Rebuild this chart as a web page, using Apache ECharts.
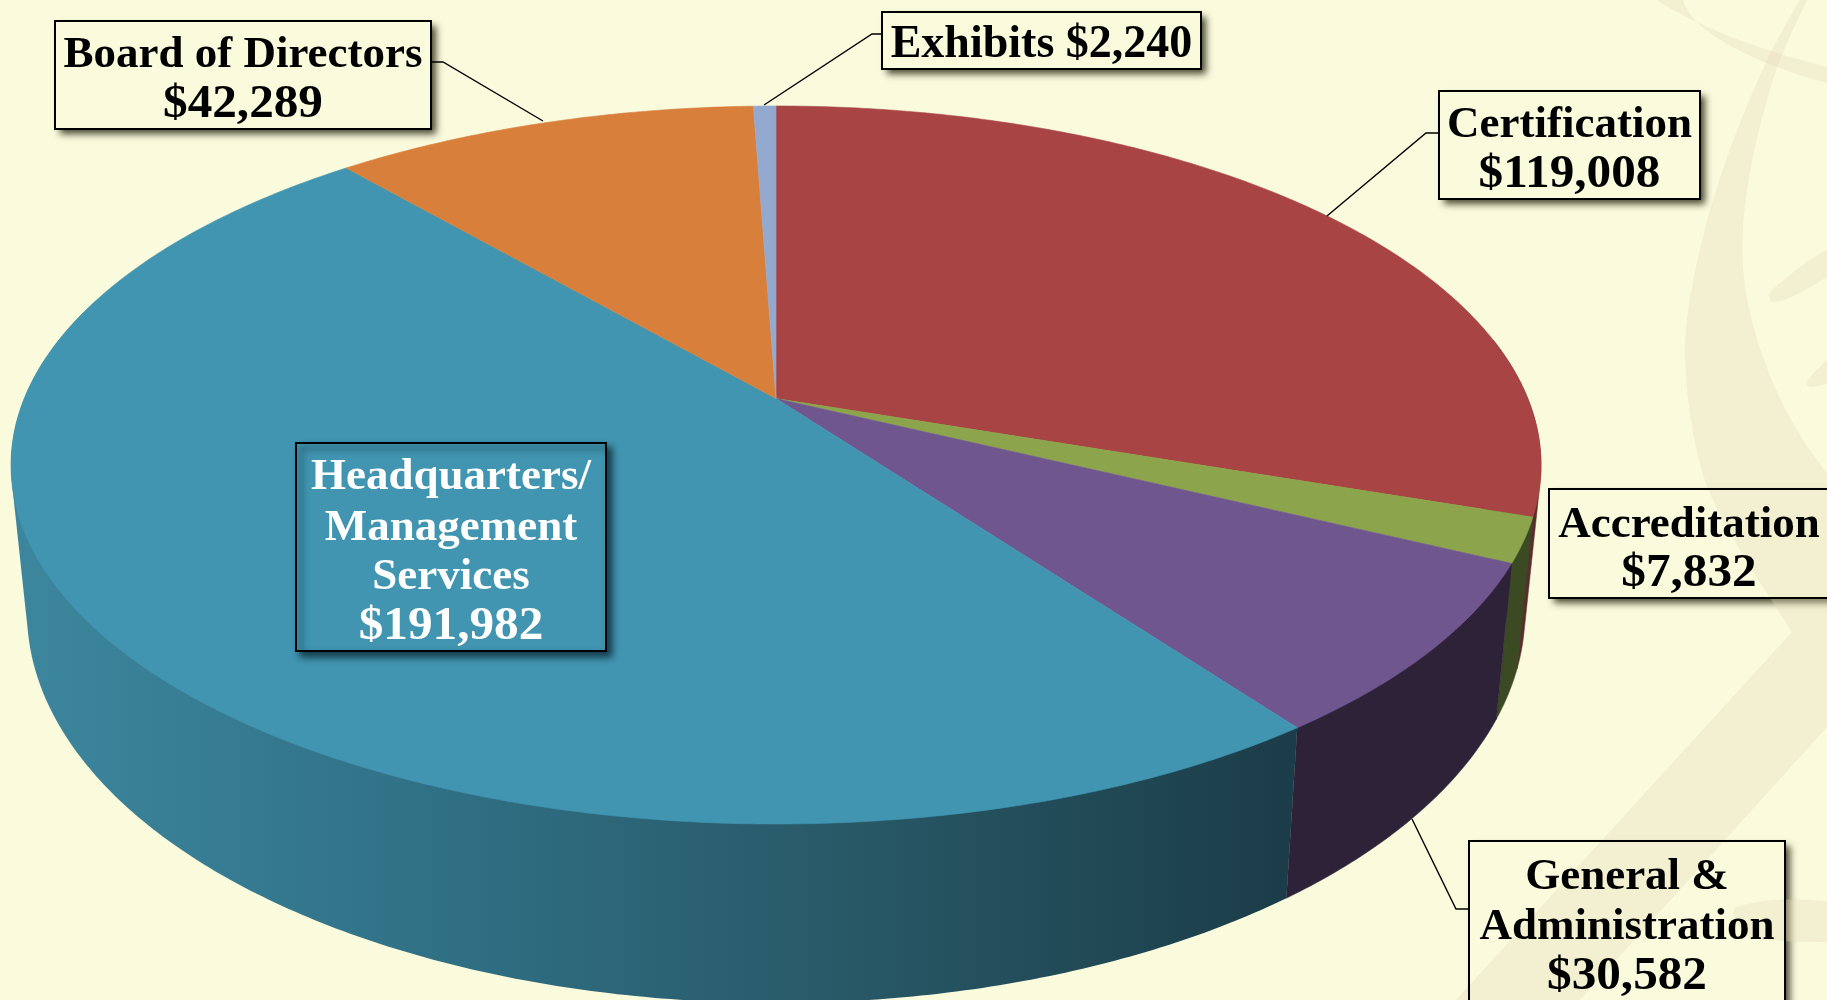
<!DOCTYPE html>
<html><head><meta charset="utf-8">
<style>html,body{margin:0;padding:0;background:#FAFADD;overflow:hidden}#c{width:1827px;height:1000px}</style>
<script src="https://cdn.jsdelivr.net/npm/echarts@6/dist/echarts.min.js"></script>
</head><body><div id="c"></div>
<script>
// ---- data (clockwise from 12 o'clock) ----
const categories = ['Certification','Accreditation','General & Administration','Headquarters/ Management Services','Board of Directors','Exhibits'];
const values = [119008, 7832, 30582, 191982, 42289, 2240];
const labelNames = [['Certification'],['Accreditation'],['General &','Administration'],['Headquarters/','Management','Services'],['Board of Directors'],[]];
const topColors = ['#A84444','#8CA54D','#70568F','#4195B0','#D8803B','#93A9CF'];
const wallColors = ['#5A2D2D','#3B4A22','#2E2239','#3F87A0','#7A4A22','#55607A'];

// ---- layout ----
const TOP = {cx:776, cy:465, rx:765, ry:359};
const BOT = {cx:776, cy:612, rx:749, ry:391};
const PERSP = 0.185;
const FONT = '"Liberation Serif", serif';
const boxes = [
 {x:1439,y:91, w:261,h:108,ty:[125,175],lead:[[1439,133],[1426,133],[1327,216]]},
 {x:1549,y:489,w:290,h:109,ty:[525,574],tx:1689,lead:null},
 {x:1469,y:841,w:316,h:175,ty:[877,927,977],lead:[[1469,909],[1456,909],[1412,819]]},
 {x:296, y:443,w:310,h:208,ty:[477,528,577,627],fill:'#4195B0',color:'#FFFFFF',lead:null},
 {x:55,  y:21, w:376,h:108,ty:[55,105],lead:[[431,62],[443,62],[543,121]]},
 {x:882, y:12, w:319,h:57, ty:[45],single:'Exhibits ',lead:[[882,34],[872,34],[764,105]]}
];

const total = values.reduce((a,b)=>a+b,0);
const fmt = v => '$' + v.toLocaleString('en-US');
const bounds = []; { let acc = 0; values.forEach(v=>{ const a0 = acc/total*Math.PI*2; acc += v; bounds.push([a0, acc/total*Math.PI*2]); }); }

// disk angle -> screen point under the perspective tilt of the plate
function project(theta, E){
  const u = Math.sin(theta), v = Math.cos(theta), d = 1 + PERSP*v;
  const vp = (v+PERSP)/d, up = u*Math.sqrt(1-PERSP*PERSP)/d;
  return [E.cx + E.rx*up, E.cy - E.ry*vp];
}
function arc(a0,a1,E){
  const n = Math.max(2, Math.ceil((a1-a0)/0.01)), pts=[];
  for(let i=0;i<=n;i++) pts.push(project(a0+(a1-a0)*i/n,E));
  return pts;
}
function hull(points){
  const p = points.slice().sort((a,b)=>a[0]-b[0]||a[1]-b[1]);
  const cross=(o,a,b)=>(a[0]-o[0])*(b[1]-o[1])-(a[1]-o[1])*(b[0]-o[0]);
  const half = list => { const h=[]; list.forEach(q=>{ while(h.length>1&&cross(h[h.length-2],h[h.length-1],q)<=0) h.pop(); h.push(q); }); h.pop(); return h; };
  return half(p).concat(half(p.slice().reverse()));
}
const APEX = [TOP.cx, TOP.cy - TOP.ry*PERSP];
const WALL_FROM = 80*Math.PI/180, WALL_TO = 285*Math.PI/180;

function renderShadow(p){
  const b = boxes[p.dataIndex];
  if(b.fill) return {type:'group',children:[]};
  return {type:'rect',shape:{x:b.x,y:b.y,width:b.w,height:b.h},
    style:{fill:'#FAFADD',shadowBlur:7,shadowOffsetX:5,shadowOffsetY:5,shadowColor:'rgba(30,30,10,0.8)'}};
}
function renderWall(p){
  const i=p.dataIndex, a0=Math.max(bounds[i][0],WALL_FROM), a1=Math.min(bounds[i][1],WALL_TO);
  if(a1<=a0) return {type:'group',children:[]};
  const pts = hull(arc(a0,a1,TOP).concat(arc(a0,a1,BOT)));
  let fill = wallColors[i];
  if(categories[i].startsWith('Headquarters')){
    fill = new echarts.graphic.LinearGradient(27,0,1298,0,[
      {offset:0,color:'#3C869D'},{offset:0.35,color:'#2F6E83'},{offset:0.65,color:'#285866'},{offset:1,color:'#1B3C48'}],true);
  }
  return {type:'polygon',shape:{points:pts},style:{fill,stroke:typeof fill==='string'?fill:null,lineWidth:typeof fill==='string'?0.5:0}};
}
function renderTop(p){
  const i=p.dataIndex;
  const pts = [APEX].concat(arc(bounds[i][0],bounds[i][1],TOP));
  return {type:'polygon',shape:{points:pts},style:{fill:topColors[i],stroke:topColors[i],lineWidth:0.6}};
}
function renderLabel(p){
  const i=p.dataIndex, b=boxes[i], kids=[];
  if(b.lead) kids.push({type:'polyline',shape:{points:b.lead},style:{fill:null,stroke:'#000',lineWidth:1.4}});
  const s = b.fill ? {fill:b.fill,stroke:'#000',lineWidth:2,shadowBlur:7,shadowOffsetX:5,shadowOffsetY:5,shadowColor:'rgba(0,20,30,0.7)'}
                   : {fill:null,stroke:'#000',lineWidth:2};
  kids.push({type:'rect',shape:{x:b.x,y:b.y,width:b.w,height:b.h},style:s});
  const names = labelNames[i], lines = b.single ? [b.single+fmt(values[i])] : names.concat([fmt(values[i])]);
  lines.forEach((t,k)=>{
    const isValue = !b.single && k===lines.length-1;
    kids.push({type:'text',x:b.tx||b.x+b.w/2,y:b.ty[k],scaleX:isValue?1.07:1,
      style:{text:t,x:0,y:0,align:'center',verticalAlign:'middle',fill:b.color||'#000',
             font:'bold '+(b.single||isValue?46:45)+'px '+FONT}});
  });
  return {type:'group',children:kids};
}

// faint watermark shapes of the slide background
const WM = 'rgba(230,219,186,0.35)';
const watermark = [
 'M1800 0 C1785 25 1776 42 1767 60 C1735 130 1712 195 1700 250 C1688 300 1685 330 1685 350 C1686 410 1698 470 1713 500 C1735 545 1765 590 1792 632 L1456 1000 L1580 1000 L1827 727 L1827 473 C1800 440 1785 410 1773 383 C1755 340 1745 300 1743 267 C1738 200 1762 110 1778 65 C1790 35 1800 15 1807 0 Z',
 'M1657 0 C1700 28 1760 50 1827 67 L1827 83 C1750 62 1690 30 1683 0 Z',
 'M1770 292 C1785 278 1810 258 1827 250 L1827 277 C1805 290 1785 302 1775 302 C1769 302 1768 296 1770 292 Z',
 'M1807 381 C1812 375 1820 366 1827 360 L1827 383 C1818 387 1804 390 1807 381 Z',
 'M1735 908 C1760 898 1800 898 1827 902 L1827 942 C1800 942 1775 941 1750 938 C1740 930 1730 915 1735 908 Z'
];
function outline(d){
  const t = d.trim().split(/\s+/); const pts=[]; let i=0, cur=null, cmd='';
  while(i<t.length){
    if(/^[MLCZ]/.test(t[i])){ cmd=t[i][0]; t[i]=t[i].slice(1); if(t[i]==='') i++; if(cmd==='Z') break; }
    if(cmd==='C'){
      const c=[]; for(let k=0;k<6;k++) c.push(+t[i++].replace(/[A-Z]/g,''));
      for(let s=1;s<=24;s++){ const q=s/24,m=1-q;
        pts.push([m*m*m*cur[0]+3*m*m*q*c[0]+3*m*q*q*c[2]+q*q*q*c[4], m*m*m*cur[1]+3*m*m*q*c[1]+3*m*q*q*c[3]+q*q*q*c[5]]); }
      cur=[c[4],c[5]];
    } else { cur=[+t[i],+t[i+1]]; i+=2; pts.push(cur); }
  }
  return pts;
}
function renderWatermark(p){
  return {type:'polygon',shape:{points:outline(watermark[p.dataIndex])},style:{fill:WM}};
}

const chart = echarts.init(document.getElementById('c'),null,{renderer:'canvas'});
chart.setOption({
  backgroundColor:'#FAFADD', animation:false,
  series:[
    {type:'custom',coordinateSystem:'none',z:0,silent:true,data:values,renderItem:renderShadow},
    {type:'custom',coordinateSystem:'none',z:1,silent:true,data:watermark.map((d,i)=>i),renderItem:renderWatermark},
    {type:'custom',coordinateSystem:'none',z:2,silent:true,data:values,renderItem:renderWall},
    {type:'custom',coordinateSystem:'none',z:3,silent:true,data:values,renderItem:renderTop},
    {type:'custom',coordinateSystem:'none',z:4,silent:true,data:values,renderItem:renderLabel}
  ]
});
</script></body></html>
